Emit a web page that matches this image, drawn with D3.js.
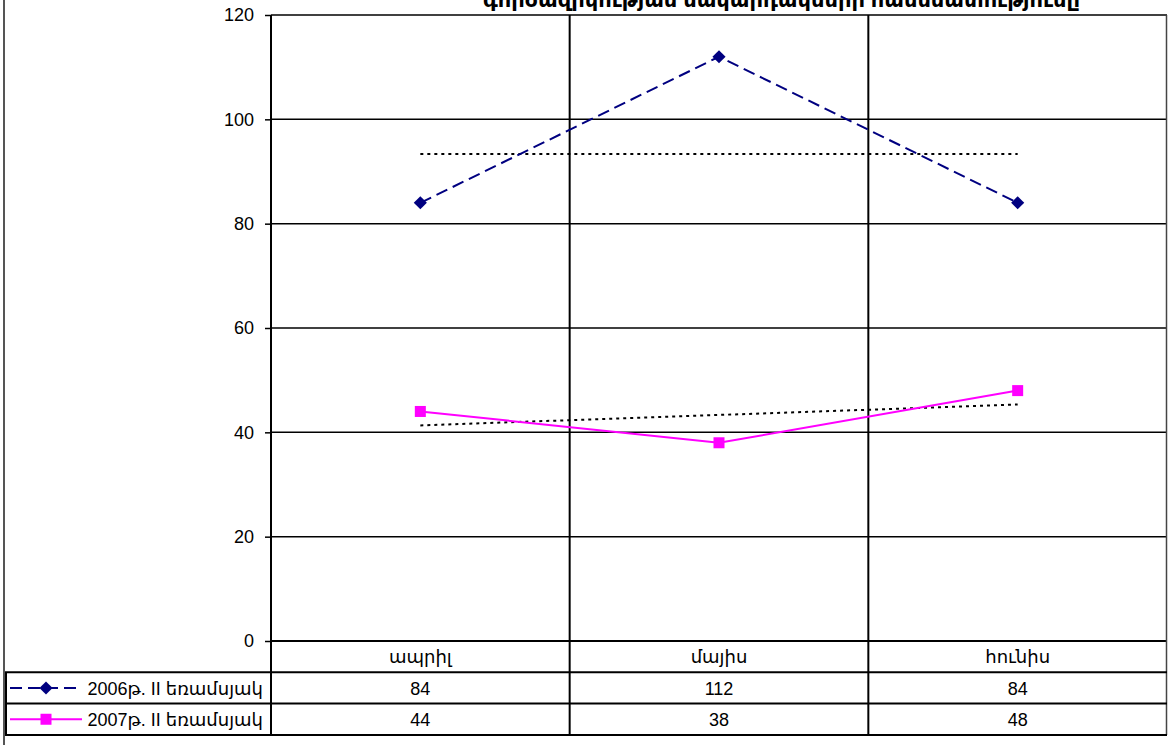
<!DOCTYPE html>
<html>
<head>
<meta charset="utf-8">
<script src="https://cdn.jsdelivr.net/npm/d3@7"></script>
<style>
  html, body { margin: 0; padding: 0; background: #fff; }
  svg { display: block; font-family: "Liberation Sans", Arial, "DejaVu Sans", sans-serif; }
</style>
</head>
<body>
<svg id="chart"></svg>
<script>
'use strict';

var titleText = 'գործազրկության մակարդակների համեմատությունը';
var months = ['ապրիլ', 'մայիս', 'հունիս'];
var yTicks = [0, 20, 40, 60, 80, 100, 120];
var seriesNames = ['2006թ. II եռամսյակ', '2007թ. II եռամսյակ'];
var values2006 = [84, 112, 84];
var values2007 = [44, 38, 48];

var width = 1168, height = 745;
var plot = { left: 271, right: 1167, top: 15, bottom: 641 };
var rowH = 31.3;
var fontSize = '18px';

var svg = d3.select('#chart').attr('width', width).attr('height', height);

var x = d3.scaleBand().domain(months).range([plot.left, plot.right]);
var y = d3.scaleLinear().domain([0, 120]).range([plot.bottom, plot.top]);
var cx = d => x(d) + x.bandwidth() / 2;

var series = [
  { name: seriesNames[0], values: values2006, color: '#000080', dash: '12,6', marker: 'diamond' },
  { name: seriesNames[1], values: values2007, color: '#ff00ff', dash: null, marker: 'square' }
];

// outer chart border (left)
svg.append('line').attr('x1', 4).attr('x2', 4).attr('y1', 0).attr('y2', height)
  .attr('stroke', '#555').attr('stroke-width', 2);

// title, cut off by the top edge like in the source
svg.append('text')
  .attr('x', 483).attr('y', 7)
  .attr('textLength', 597).attr('lengthAdjust', 'spacingAndGlyphs')
  .style('font-size', '21px').style('font-weight', 'bold')
  .text(titleText);

// y axis ticks + labels
var yAxis = d3.axisLeft(y).tickValues(yTicks).tickSize(6).tickPadding(11);
var ya = svg.append('g').attr('transform', 'translate(' + plot.left + ',0)').call(yAxis);
ya.select('.domain').remove();
ya.selectAll('line').attr('stroke', '#000').attr('stroke-width', 1.5);
ya.selectAll('text').style('font-size', fontSize).attr('fill', '#000')
  .attr('font-family', '"Liberation Sans", Arial, sans-serif');

// horizontal gridlines
svg.append('g').selectAll('line').data(yTicks).enter().append('line')
  .attr('x1', plot.left).attr('x2', plot.right)
  .attr('y1', d => y(d)).attr('y2', d => y(d))
  .attr('stroke', '#000').attr('stroke-width', d => d == 0 ? 2 : 1.5);

// vertical lines: axis + category separators down through the table
var tableBottom = plot.bottom + rowH * 3;
svg.append('line').attr('x1', plot.left).attr('x2', plot.left)
  .attr('y1', plot.top).attr('y2', tableBottom).attr('stroke', '#000').attr('stroke-width', 2);
svg.append('g').selectAll('line').data(months.slice(1)).enter().append('line')
  .attr('x1', d => x(d)).attr('x2', d => x(d))
  .attr('y1', plot.top).attr('y2', tableBottom)
  .attr('stroke', '#000').attr('stroke-width', 2);
svg.append('line').attr('x1', plot.right - 0.5).attr('x2', plot.right - 0.5)
  .attr('y1', plot.top).attr('y2', tableBottom).attr('stroke', '#444').attr('stroke-width', 1.5);

// data table
var tbl = svg.append('g');
[1, 2, 3].forEach(function(r) {
  var yy = plot.bottom + rowH * r;
  tbl.append('line').attr('x1', 5).attr('x2', plot.right)
    .attr('y1', yy).attr('y2', yy).attr('stroke', '#000').attr('stroke-width', 2);
});
tbl.append('line').attr('x1', 6).attr('x2', 6)
  .attr('y1', plot.bottom + rowH).attr('y2', tableBottom).attr('stroke', '#000').attr('stroke-width', 2);

tbl.selectAll('text.month').data(months).enter().append('text')
  .attr('class', 'month')
  .attr('x', d => cx(d)).attr('y', plot.bottom + rowH / 2 + 6)
  .attr('text-anchor', 'middle').style('font-size', fontSize)
  .text(d => d);

series.forEach(function(s, si) {
  var rowMid = plot.bottom + rowH * (si + 1) + rowH / 2;
  tbl.selectAll('text.v' + si).data(s.values).enter().append('text')
    .attr('x', (d, i) => cx(months[i])).attr('y', rowMid + 7)
    .attr('text-anchor', 'middle').style('font-size', fontSize)
    .text(d => d);
  tbl.append('text').attr('x', 263).attr('y', rowMid + 7)
    .attr('text-anchor', 'end').style('font-size', fontSize)
    .text(s.name);
  tbl.append('line').attr('x1', 10).attr('x2', 82).attr('y1', rowMid).attr('y2', rowMid)
    .attr('stroke', s.color).attr('stroke-width', 2)
    .attr('stroke-dasharray', s.dash);
  drawMarker(tbl, s, 46, rowMid);
});

// linear trendlines
series.forEach(function(s) {
  var n = s.values.length;
  var xs = d3.range(1, n + 1);
  var mx = d3.mean(xs), my = d3.mean(s.values);
  var slope = d3.sum(xs, (v, i) => (v - mx) * (s.values[i] - my)) / d3.sum(xs, v => (v - mx) * (v - mx));
  var b = my - slope * mx;
  svg.append('line')
    .attr('x1', cx(months[0])).attr('x2', cx(months[n - 1]))
    .attr('y1', y(b + slope)).attr('y2', y(b + slope * n))
    .attr('stroke', '#000').attr('stroke-width', 2).attr('stroke-dasharray', '3,4');
});

// series lines + markers
var line = d3.line().x((d, i) => cx(months[i])).y(d => y(d));
series.forEach(function(s) {
  svg.append('path').datum(s.values)
    .attr('d', line).attr('fill', 'none')
    .attr('stroke', s.color).attr('stroke-width', 2)
    .attr('stroke-dasharray', s.dash);
  s.values.forEach(function(v, i) {
    drawMarker(svg, s, cx(months[i]), y(v));
  });
});

function drawMarker(g, s, px, py) {
  if (s.marker == 'diamond') {
    g.append('path')
      .attr('d', d3.symbol().type(d3.symbolDiamond2).size(110))
      .attr('transform', 'translate(' + px + ',' + py + ')')
      .attr('fill', s.color);
  } else {
    g.append('rect').attr('x', px - 5.5).attr('y', py - 5.5)
      .attr('width', 11).attr('height', 11).attr('fill', s.color);
  }
}
</script>
</body>
</html>
